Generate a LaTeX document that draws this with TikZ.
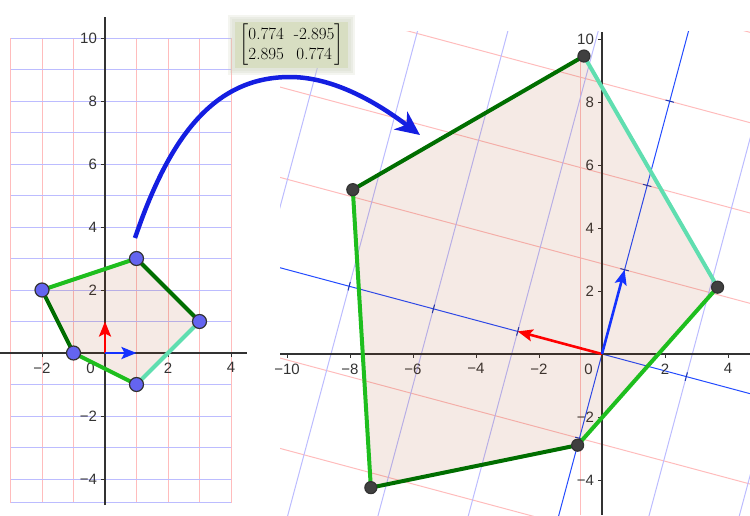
\documentclass[tikz,border=0pt]{standalone}
\usepackage{amsmath}
\usepackage{fontspec}
\newfontfamily\ggfont{Liberation Sans}
\usetikzlibrary{calc, arrows.meta}

\definecolor{gridred}{RGB}{255,188,188}
\definecolor{gridblue}{RGB}{188,188,255}
\definecolor{imgblue}{RGB}{35,75,255}
\definecolor{axisgrey}{RGB}{50,50,50}
\definecolor{polybrown}{RGB}{153,51,0}
\definecolor{lightgreen}{RGB}{30,190,30}
\definecolor{darkgreen}{RGB}{0,110,0}
\definecolor{aqua}{RGB}{96,222,176}
\definecolor{ptblue}{RGB}{100,100,240}
\definecolor{ptgrey}{RGB}{64,64,64}
\definecolor{vecred}{RGB}{255,0,0}
\definecolor{vecblue}{RGB}{20,50,255}
\definecolor{arcblue}{RGB}{20,30,225}
\definecolor{matbg}{RGB}{216,222,194}

\begin{document}
\begin{tikzpicture}[x=1pt, y=-1pt,
    ticklabel/.style={font=\ggfont\fontsize{15}{17}\selectfont, text=black!80, inner sep=0pt},
    ggaxis/.style={draw=axisgrey, line width=1.4pt},
    gridline/.style={line width=1pt},
    vec/.style={line width=2.6pt, -{Stealth[length=15pt, width=12pt, inset=3pt]}},
    side/.style={line width=4pt, line cap=round},
    vertex/.style={draw=black!80, line width=1.2pt}]
    \useasboundingbox (0,0) rectangle (750,515);

    \begin{scope}[shift={(105,353)}, x=31.5pt, y=31.5pt]
        \foreach \i in {-3,-2,-1,1,2,3,4}
            \draw[gridred, gridline] (\i,-4.75) -- (\i,10);
        \foreach \j in {-4.75,-4,-3,-2,-1,1,2,...,10}
            \draw[gridblue, gridline] (-3,\j) -- (4,\j);
        \draw[ggaxis] (-3.33,0) -- (4.5,0);
        \draw[ggaxis] (0,-4.83) -- (0,10.67);
        \foreach \i/\t in {-2/−2,2/2,4/4} {
            \draw[ggaxis, line width=1pt] (\i,0) -- (\i,-0.12);
            \node[ticklabel, anchor=north] (lx\i) at (\i,-0.3) {\t};
        }
        \foreach \j/\t in {-4/−4,-2/−2,2/2,4/4,6/6,8/8,10/10} {
            \draw[ggaxis, line width=1pt] (0,\j) -- (-0.13,\j);
            \node[ticklabel, anchor=east] (ly\j) at (-0.25,\j) {\t};
        }
        \node[ticklabel, anchor=north east] (lzero) at (-0.32,-0.3) {0};

        \coordinate (O) at (0,0);
        \coordinate (e1) at (1,0);
        \coordinate (e2) at (0,1);
        \coordinate (A) at (-2,2);
        \coordinate (B) at (1,3);
        \coordinate (C) at (3,1);
        \coordinate (D) at (1,-1);
        \coordinate (E) at (-1,0);
        \fill[polybrown, fill opacity=0.1] (A) -- (B) -- (C) -- (D) -- (E) -- cycle;
        \draw[vec, vecred] (O) -- (e2);
        \draw[vec, vecblue] (O) -- (e1);
        \draw[side, lightgreen] (A) -- (B);
        \draw[side, darkgreen] (B) -- (C);
        \draw[side, aqua] (C) -- (D);
        \draw[side, lightgreen] (D) -- (E);
        \draw[side, darkgreen] (E) -- (A);
        \foreach \p in {A,B,C,D,E}
            \filldraw[vertex, fill=ptblue] (\p) circle[radius=7pt];
    \end{scope}

    \begin{scope}
        \clip (280,31) rectangle (750,515);
        \draw[gridred, gridline] (580,58) -- (580,515);
        \begin{scope}[shift={(602,354)}, x=31.5pt, y=31.5pt, rotate=75, scale=2.77]
            \foreach \i in {-3,-2,-1,1,2,3,4}
                \draw[gridred, gridline] (\i,-12) -- (\i,12);
            \foreach \j in {-4,...,-1,1,2,...,10}
                \draw[gridblue, gridline] (-12,\j) -- (12,\j);
            \draw[imgblue, gridline] (-12,0) -- (12,0);
            \draw[imgblue, gridline] (0,-12) -- (0,12);
            \foreach \k in {-1,1,2,3} {
                \draw[imgblue!70!black, gridline] (\k,-0.05) -- (\k,0.05);
                \draw[imgblue!70!black, gridline] (-0.05,\k) -- (0.05,\k);
            }
        \end{scope}
    \end{scope}

    \begin{scope}[shift={(602,354)}, x=31.5pt, y=31.5pt]
        \draw[ggaxis] (-10.22,0) -- (4.71,0);
        \draw[ggaxis] (0,-5.11) -- (0,10.22);
        \foreach \i/\t in {-10/−10,-8/−8,-6/−6,-4/−4,-2/−2,2/2,4/4} {
            \draw[ggaxis, line width=1pt] (\i,0) -- (\i,-0.12);
            \node[ticklabel, anchor=north] (rx\i) at (\i,-0.3) {\t};
        }
        \foreach \j/\t in {-4/−4,-2/−2,2/2,4/4,6/6,8/8,10/10} {
            \draw[ggaxis, line width=1pt] (0,\j) -- (-0.13,\j);
            \node[ticklabel, anchor=east] (ry\j) at (-0.25,\j) {\t};
        }
        \node[ticklabel, anchor=north east] (rzero) at (-0.29,-0.3) {0};

        \coordinate (Oi) at (0,0);
        \coordinate (f1) at (0.717,2.676);
        \coordinate (f2) at (-2.676,0.717);
        \coordinate (Ai) at (-7.338,-4.242);
        \coordinate (Bi) at (-7.911,5.217);
        \coordinate (Ci) at (-0.573,9.459);
        \coordinate (Di) at (3.669,2.121);
        \coordinate (Ei) at (-0.774,-2.895);
        \fill[polybrown, fill opacity=0.1] (Ai) -- (Bi) -- (Ci) -- (Di) -- (Ei) -- cycle;
        \draw[vec, vecred] (Oi) -- (f2);
        \draw[vec, vecblue] (Oi) -- (f1);
        \draw[side, lightgreen] (Ai) -- (Bi);
        \draw[side, darkgreen] (Bi) -- (Ci);
        \draw[side, aqua] (Ci) -- (Di);
        \draw[side, lightgreen] (Di) -- (Ei);
        \draw[side, darkgreen] (Ei) -- (Ai);
        \foreach \p in {Ai,Bi,Ci,Di,Ei}
            \filldraw[vertex, fill=ptgrey] (\p) circle[radius=6pt];
    \end{scope}

    \foreach \d in {7,5,3}
        \fill[matbg!80!gray, opacity=0.2] ({235-\d},{22-\d}) rectangle ({348+\d},{68+\d});
    \node[fill=matbg, minimum width=113pt, minimum height=46pt, inner sep=0pt] (mat) at (291.5,45)
        {\fontsize{17}{20}\selectfont$\begin{bmatrix}\text{0.774} & \text{-2.895}\\ \text{2.895} & \text{0.774}\end{bmatrix}$};

    \coordinate (arcS) at (135,238);
    \coordinate (arcE) at (420,135);
    \draw[arcblue, line width=4.5pt, -{Stealth[length=24pt, width=22pt, inset=7pt]}]
        (arcS) .. controls (170,135) and (215,77) .. (290,77)
        .. controls (340,77) and (388,111) .. (arcE);
\end{tikzpicture}
\end{document}
